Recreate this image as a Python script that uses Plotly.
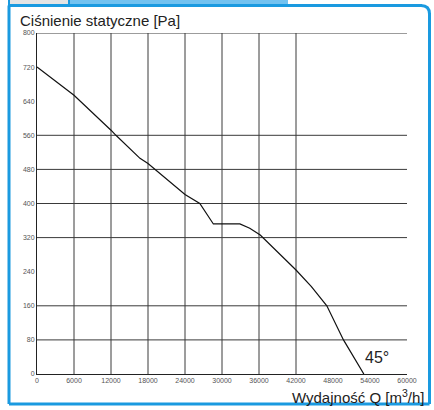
import plotly.graph_objects as go

# Data
flow = [0, 6000, 12000, 12800, 16700, 18000, 24000, 26400, 28600, 32900,
        34500, 36200, 42000, 44500, 47000, 49700, 53000]
pressure = [720, 654, 572, 560, 506, 494, 421, 400, 352, 352,
            342, 326, 244, 205, 160, 80, 0]

x_ticks = [0, 6000, 12000, 18000, 24000, 30000, 36000, 42000, 48000, 54000, 60000]
y_ticks = [0, 80, 160, 240, 320, 400, 480, 560, 640, 720, 800]
v_grid = [6000, 12000, 18000, 24000, 30000, 36000, 42000]
h_grid = [80, 160, 320, 400, 480, 560, 800]

W, H = 434, 410
L, R, T, B = 37, 27, 33, 36
pw, ph = W - L - R, H - T - B

def px(x):
    return (x - L) / pw

def py(y):
    return (H - B - y) / ph

BLUE = "#1a9ae0"

fig = go.Figure()
fig.add_trace(go.Scatter(x=flow, y=pressure, mode="lines",
                         line=dict(color="#111111", width=1.2), hoverinfo="skip"))

shapes = []
for v in v_grid:
    shapes.append(dict(type="line", xref="x", yref="y", x0=v, x1=v, y0=0, y1=800,
                       line=dict(color="#3a3a3a", width=1), layer="below"))
for h in h_grid:
    shapes.append(dict(type="line", xref="x", yref="y", x0=0, x1=60000, y0=h, y1=h,
                       line=dict(color="#3a3a3a", width=1), layer="below"))
# top tabs
shapes.append(dict(type="rect", xref="paper", yref="paper",
                   x0=px(69), x1=px(288), y0=py(0), y1=py(5),
                   fillcolor="#72c2f0", line=dict(width=0)))
shapes.append(dict(type="rect", xref="paper", yref="paper",
                   x0=px(9), x1=px(69), y0=py(-2), y1=py(5),
                   fillcolor="#e4e4e4", line=dict(color=BLUE, width=2)))
# frame (straight sides)
frame_segments = [(9, 5.5, 422, 5.5), (9, 5.5, 9, 404), (9, 404, 429.5, 404),
                  (429.5, 13, 429.5, 404)]
for (x0, y0, x1, y1) in frame_segments:
    shapes.append(dict(type="line", xref="paper", yref="paper",
                       x0=px(x0), x1=px(x1), y0=py(y0), y1=py(y1),
                       line=dict(color=BLUE, width=3)))
# rounded top-right corner
shapes.append(dict(type="path", xref="paper", yref="paper",
                   path="M {a:.5f},{b:.5f} Q {c:.5f},{b:.5f} {c:.5f},{d:.5f}".format(
                       a=px(421), b=py(5.5), c=px(429.5), d=py(14)),
                   line=dict(color=BLUE, width=3)))

fig.update_layout(
    width=W, height=H,
    margin=dict(l=L, r=R, t=T, b=B),
    paper_bgcolor="white", plot_bgcolor="white",
    showlegend=False,
    font=dict(family="Liberation Sans, Arial, sans-serif"),
    shapes=shapes,
    xaxis=dict(range=[0, 60000], tickvals=x_ticks, ticktext=[str(t) for t in x_ticks],
               showgrid=False, zeroline=False, showline=True, linecolor="#222", linewidth=1,
               ticks="", tickfont=dict(size=7, color="#555"), fixedrange=True),
    yaxis=dict(range=[0, 800], tickvals=y_ticks, ticktext=[str(t) for t in y_ticks],
               showgrid=False, zeroline=False, showline=True, linecolor="#222", linewidth=1,
               ticks="", tickfont=dict(size=7, color="#555"), fixedrange=True),
    annotations=[
        dict(text="Ciśnienie statyczne [Pa]", xref="paper", yref="paper",
             x=px(18), y=py(20), xanchor="left", yanchor="middle", showarrow=False,
             font=dict(size=15, color="#222")),
        dict(text="Wydajność Q [m<sup>3</sup>/h]", xref="paper", yref="paper",
             x=px(426), y=py(396), xanchor="right", yanchor="middle", showarrow=False,
             font=dict(size=15, color="#222")),
        dict(text="45°", xref="paper", yref="paper",
             x=px(363), y=py(357), xanchor="left", yanchor="middle", showarrow=False,
             font=dict(size=16, color="#222")),
    ],
)

fig.write_html("out.html", config={"displayModeBar": False},
               post_script="document.body.style.margin='0';document.body.style.padding='0';")
